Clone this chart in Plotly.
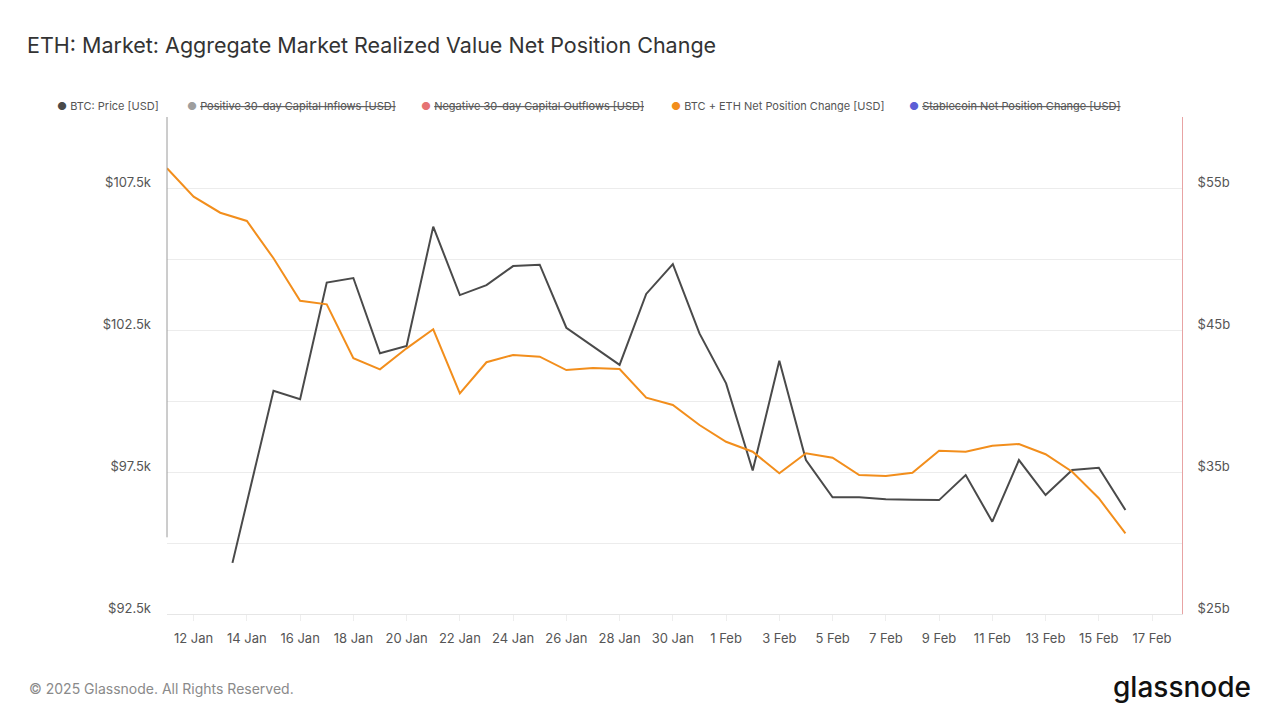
import plotly.graph_objects as go

# BTC price [USD] - visible part of the series (starts mid-day 13 Jan in the chart)
price_dates = [
    "2025-01-13 11:00", "2025-01-15", "2025-01-16", "2025-01-17", "2025-01-18",
    "2025-01-19", "2025-01-20", "2025-01-21", "2025-01-22", "2025-01-23",
    "2025-01-24", "2025-01-25", "2025-01-26", "2025-01-27", "2025-01-28",
    "2025-01-29", "2025-01-30", "2025-01-31", "2025-02-01", "2025-02-02",
    "2025-02-03", "2025-02-04", "2025-02-05", "2025-02-06", "2025-02-07",
    "2025-02-08", "2025-02-09", "2025-02-10", "2025-02-11", "2025-02-12",
    "2025-02-13", "2025-02-14", "2025-02-15", "2025-02-16",
]
btc_price = [
    94300, 100360, 100060, 104170, 104330,
    101680, 101940, 106140, 103730, 104080,
    104750, 104800, 102580, 101910, 101270,
    103770, 104820, 102380, 100620, 97550,
    101420, 97920, 96610, 96610, 96540,
    96520, 96510, 97390, 95750, 97920,
    96690, 97570, 97650, 96160,
]

# BTC + ETH net position change [USD billions], daily 11 Jan - 16 Feb
net_dates = [
    "2025-01-11", "2025-01-12", "2025-01-13", "2025-01-14", "2025-01-15",
    "2025-01-16", "2025-01-17", "2025-01-18", "2025-01-19", "2025-01-20",
    "2025-01-21", "2025-01-22", "2025-01-23", "2025-01-24", "2025-01-25",
    "2025-01-26", "2025-01-27", "2025-01-28", "2025-01-29", "2025-01-30",
    "2025-01-31", "2025-02-01", "2025-02-02", "2025-02-03", "2025-02-04",
    "2025-02-05", "2025-02-06", "2025-02-07", "2025-02-08", "2025-02-09",
    "2025-02-10", "2025-02-11", "2025-02-12", "2025-02-13", "2025-02-14",
    "2025-02-15", "2025-02-16",
]
net_change_b = [
    56.39, 54.39, 53.26, 52.68, 50.05,
    47.06, 46.81, 43.01, 42.23, 43.71,
    45.05, 40.54, 42.73, 43.24, 43.12,
    42.18, 42.32, 42.25, 40.23, 39.72,
    38.31, 37.13, 36.43, 34.91, 36.32,
    36.01, 34.79, 34.72, 34.95, 36.50,
    36.43, 36.85, 36.97, 36.25, 35.02,
    33.15, 30.68,
]

# axis ticks
price_ticks = [92500, 95000, 97500, 100000, 102500, 105000, 107500, 110000]
price_labels = ["$92.5k", "", "$97.5k", "", "$102.5k", "", "$107.5k", ""]
net_ticks = [25, 30, 35, 40, 45, 50, 55, 60]
net_labels = ["$25b", "", "$35b", "", "$45b", "", "$55b", ""]

# legend entries: name, colour, shown (hidden ones are struck through)
legend_names = [
    "BTC: Price [USD]",
    "Positive 30-day Capital Inflows [USD]",
    "Negative 30-day Capital Outflows [USD]",
    "BTC + ETH Net Position Change [USD]",
    "Stablecoin Net Position Change [USD]",
]
legend_colors = ["#4a4a4a", "#9e9e9e", "#e57373", "#f28e1c", "#5c5fd6"]
legend_shown = [True, False, False, True, False]
legend_x_px = [57, 187, 421, 671, 909]  # where each dot starts

FONT = "Inter, Roboto, sans-serif"
PLOT_L, PLOT_W, PLOT_T, PLOT_H = 167, 1015, 117, 497

fig = go.Figure()

fig.add_trace(
    go.Scatter(
        x=price_dates,
        y=btc_price,
        mode="lines",
        line=dict(color="#4a4a4a", width=2),
        showlegend=False,
        yaxis="y",
    )
)

fig.add_trace(
    go.Scatter(
        x=net_dates,
        y=net_change_b,
        mode="lines",
        line=dict(color="#f28e1c", width=2),
        showlegend=False,
        yaxis="y2",
    )
)

legend_layouts = {}
for i, name in enumerate(legend_names):
    text = name if legend_shown[i] else f"<s>{name}</s>"
    label = f'<span style="color:{legend_colors[i]}">●</span> {text}'
    key = "legend" if i == 0 else f"legend{i + 1}"
    fig.add_trace(
        go.Scatter(
            x=[None],
            y=[None],
            mode="markers",
            marker=dict(color="rgba(0,0,0,0)", size=1),
            name=label,
            legend=key,
        )
    )
    legend_layouts[key] = dict(
        orientation="h",
        x=(legend_x_px[i] - 40 - PLOT_L) / PLOT_W,
        xanchor="left",
        y=1 + (PLOT_T - 106) / PLOT_H,
        yanchor="middle",
        font=dict(size=11, color="#555555"),
        bgcolor="rgba(0,0,0,0)",
    )

fig.update_layout(
    width=1280,
    height=720,
    paper_bgcolor="white",
    plot_bgcolor="white",
    font=dict(family=FONT, color="#555555", size=12),
    margin=dict(l=PLOT_L, r=1280 - PLOT_L - PLOT_W, t=PLOT_T, b=720 - PLOT_T - PLOT_H),
    title=dict(
        text="ETH: Market: Aggregate Market Realized Value Net Position Change",
        font=dict(family=FONT, size=21.5, color="#333333"),
        xref="container",
        yref="container",
        x=27 / 1280,
        xanchor="left",
        y=1 - 45 / 720,
        yanchor="middle",
    ),
    xaxis=dict(
        type="date",
        range=["2025-01-11", "2025-02-18 03:00"],
        tick0="2025-01-12",
        dtick=2 * 86400000,
        tickformat="%-d %b",
        showgrid=False,
        showline=True,
        linecolor="#e6e6e6",
        linewidth=1,
        zeroline=False,
        ticks="outside",
        ticklen=6,
        tickcolor="#eeeeee",
        ticklabelstandoff=6,
        tickfont=dict(size=13, color="#555555"),
    ),
    yaxis=dict(
        range=[92500, 110000],
        tickvals=price_ticks,
        ticktext=price_labels,
        showgrid=True,
        gridcolor="#ececec",
        gridwidth=1,
        zeroline=False,
        showline=False,
        ticks="",
        ticklabelstandoff=15,
        ticklabelshift=-6,
        tickfont=dict(size=13, color="#555555"),
    ),
    yaxis2=dict(
        range=[25, 60],
        tickvals=net_ticks,
        ticktext=net_labels,
        overlaying="y",
        side="right",
        showgrid=False,
        zeroline=False,
        showline=True,
        linecolor="#e8a3a3",
        linewidth=1,
        ticks="",
        ticklabelstandoff=12,
        ticklabelshift=-6,
        tickfont=dict(size=13, color="#555555"),
    ),
    **legend_layouts,
)

# left axis line, which stops short of the bottom in the original
fig.add_shape(
    type="line",
    xref="paper",
    yref="y",
    x0=0,
    x1=0,
    y0=95200,
    y1=110000,
    line=dict(color="#9a9a9a", width=1),
)

fig.add_annotation(
    text="© 2025 Glassnode. All Rights Reserved.",
    xref="paper",
    yref="paper",
    x=(27 - PLOT_L) / PLOT_W,
    xanchor="left",
    y=-(688 - PLOT_T - PLOT_H) / PLOT_H,
    yanchor="middle",
    showarrow=False,
    font=dict(family=FONT, size=14, color="#8a8a8a"),
)

fig.add_annotation(
    text="glassnode",
    xref="paper",
    yref="paper",
    x=(1253 - PLOT_L) / PLOT_W,
    xanchor="right",
    y=-(687 - PLOT_T - PLOT_H) / PLOT_H,
    yanchor="middle",
    showarrow=False,
    font=dict(family=FONT, size=28, color="#111111", weight=500),
)

fig.write_html(
    "out.html",
    config={"displayModeBar": False},
    post_script="document.body.style.margin = '0';",
)
